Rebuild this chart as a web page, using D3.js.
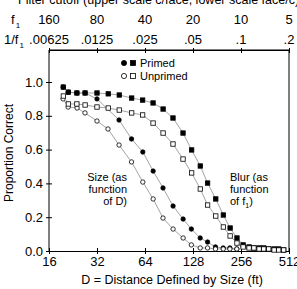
<!DOCTYPE html>
<html>
<head>
<meta charset="utf-8">
<script src="https://cdn.jsdelivr.net/npm/d3@7"></script>
<style>
  body { margin: 0; background: #fff; }
  svg { font-family: "Liberation Sans", Arial, Helvetica, sans-serif; }
</style>
</head>
<body>
<div id="chart"></div>
<script>
// ---- data ----
let distTicks = [16, 32, 64, 128, 256, 512];
let fTicks = [160, 80, 40, 20, 10, 5];
let invTickLabels = [".00625", ".0125", ".025", ".05", ".1", ".2"];
let yTicks = [0, 0.2, 0.4, 0.6, 0.8, 1.0];

// size condition, x = distance D (ft)
let sizeD = [19.6, 21.1, 24, 26.9, 32, 37.5, 44, 52.7, 62, 72, 83, 96, 111, 125, 142, 158, 177, 198, 218, 241];
let sizePrimed = [0.97, 0.94, 0.935, 0.935, 0.90, null, 0.775, 0.663, 0.586, 0.473, 0.373, 0.266, 0.189, 0.13, 0.077, 0.053, 0.024, 0.018, 0.018, 0.012];
let sizeUnprimed = [0.90, 0.852, 0.846, 0.817, 0.769, 0.722, 0.627, 0.527, 0.408, 0.308, 0.195, 0.130, 0.077, 0.036, 0.018, 0.018, 0.012, 0.012, 0.012, 0.012];

// blur condition, x = filter cutoff f1 (c/face)
let blurF = [130, 121, 107, 95, 80, 68, 58, 48.5, 41.4, 35.6, 30.8, 26.7, 23.1, 20.4, 18, 16.2, 14.4, 12.9, 11.7, 10.6, 9.7, 8.9, 8.3, 7.7, 7.2, 6.7, 6.2, 5.8, 5.4];
let blurPrimed = [0.97, 0.94, 0.935, 0.935, 0.935, 0.93, 0.923, 0.905, 0.893, 0.876, 0.84, 0.787, 0.698, 0.598, 0.503, 0.402, 0.308, 0.213, 0.136, 0.077, 0.036, 0.024, 0.018, 0.018, 0.018, 0.012, 0.012, 0.012, 0.006];
let blurUnprimed = [0.917, 0.87, 0.87, 0.864, 0.852, 0.846, 0.834, 0.817, 0.805, 0.757, 0.698, 0.633, 0.544, 0.462, 0.367, 0.272, 0.207, 0.142, 0.089, 0.047, 0.024, 0.018, 0.018, 0.012, 0.012, 0.012, 0.006, 0.006, 0.006];

// ---- layout ----
let width = 297, height = 289;
let plotLeft = 49, plotRight = 289, plotTop = 50, plotBottom = 251;

let svg = d3.select("#chart").append("svg")
    .attr("width", width)
    .attr("height", height);

let x = d3.scaleLog().base(2).domain([16, 512]).range([plotLeft, plotRight]);
let xf = d3.scaleLog().base(2).domain([160, 5]).range([plotLeft, plotRight]);
let y = d3.scaleLinear().domain([0, 1]).range([plotBottom, 82]);

// frame: top and right lines
svg.append("line").attr("x1", plotLeft).attr("x2", plotRight).attr("y1", plotTop).attr("y2", plotTop).attr("stroke", "#000");
svg.append("line").attr("x1", plotRight).attr("x2", plotRight).attr("y1", plotTop).attr("y2", plotBottom).attr("stroke", "#000");

// bottom axis
let gx = svg.append("g")
    .attr("transform", `translate(0,${plotBottom})`)
    .call(d3.axisBottom(x).tickValues(distTicks).tickFormat(d3.format("d")).tickSize(3).tickSizeOuter(0));
gx.selectAll(".tick line").attr("y1", -3).attr("y2", 3);
gx.selectAll(".tick text").attr("y", 6).attr("font-size", 13).attr("fill", "#000");

// left axis
let gy = svg.append("g")
    .attr("transform", `translate(${plotLeft},0)`)
    .call(d3.axisLeft(y).tickValues(yTicks).tickFormat(d3.format(".1f")).tickSize(3).tickSizeOuter(0));
gy.selectAll(".tick line").attr("x1", -3).attr("x2", 3);
gy.selectAll(".tick text").attr("x", -6).attr("font-size", 13).attr("fill", "#000");
gy.select(".domain").attr("d", `M0,${plotTop}V${plotBottom}`);

// top axis (filter cutoff)
let gt = svg.append("g")
    .attr("transform", `translate(0,${plotTop})`)
    .call(d3.axisTop(xf).tickValues(fTicks).tickFormat("").tickSize(3).tickSizeOuter(0));
gt.selectAll(".tick line").attr("y1", -2).attr("y2", 3);

svg.append("g").selectAll("text").data(fTicks).enter().append("text")
    .attr("x", d => xf(d)).attr("y", 24)
    .attr("text-anchor", "middle").attr("font-size", 13)
    .text(d => d);

svg.append("g").selectAll("text").data(fTicks).enter().append("text")
    .attr("x", d => xf(d)).attr("y", 44)
    .attr("text-anchor", "middle").attr("font-size", 13)
    .text((d, i) => invTickLabels[i]);

let f1 = svg.append("text").attr("x", 11).attr("y", 24).attr("font-size", 13);
f1.append("tspan").text("f");
f1.append("tspan").attr("font-size", 8).attr("dy", 4).attr("dx", 1).text("1");

let if1 = svg.append("text").attr("x", 4).attr("y", 44).attr("font-size", 13);
if1.append("tspan").text("1/f");
if1.append("tspan").attr("font-size", 8).attr("dy", 4).attr("dx", 1).text("1");

svg.append("text")
    .attr("x", 18).attr("y", 3.5).attr("font-size", 12.5)
    .text("Filter cutoff (upper scale c/face, lower scale face/c)");

// axis titles
svg.append("text")
    .attr("transform", "translate(13,153) rotate(-90)")
    .attr("text-anchor", "middle").attr("font-size", 12)
    .text("Proportion Correct");

svg.append("text")
    .attr("x", 172).attr("y", 284)
    .attr("text-anchor", "middle").attr("font-size", 12.5)
    .text("D = Distance Defined by Size (ft)");

// ---- series ----
let series = [
    {xs: sizeD, ys: sizePrimed, sc: x, shape: "circle", filled: true},
    {xs: sizeD, ys: sizeUnprimed, sc: x, shape: "circle", filled: false},
    {xs: blurF, ys: blurPrimed, sc: xf, shape: "square", filled: true},
    {xs: blurF, ys: blurUnprimed, sc: xf, shape: "square", filled: false}
];

let line = d3.line().x(d => d[0]).y(d => d[1]);

series.forEach(s => {
    let pts = s.xs.map((v, i) => [v, s.ys[i]])
        .filter(d => d[1] != null)
        .map(d => [s.sc(d[0]), y(d[1])]);

    svg.append("path")
        .attr("d", line(pts))
        .attr("fill", "none")
        .attr("stroke", "#8c8c8c")
        .attr("stroke-width", 0.8);

    let g = svg.append("g");
    if (s.shape === "circle") {
        g.selectAll("circle").data(pts).enter().append("circle")
            .attr("cx", d => d[0]).attr("cy", d => d[1]).attr("r", 2.2)
            .attr("fill", s.filled ? "#000" : "#fff")
            .attr("stroke", "#000").attr("stroke-width", 0.8);
    } else {
        g.selectAll("rect").data(pts).enter().append("rect")
            .attr("x", d => d[0] - 2.2).attr("y", d => d[1] - 2.2)
            .attr("width", 4.4).attr("height", 4.4)
            .attr("fill", s.filled ? "#000" : "#fff")
            .attr("stroke", "#000").attr("stroke-width", 0.8);
    }
});

// legend
let legendRows = [{label: "Primed", filled: true, y: 63}, {label: "Unprimed", filled: false, y: 76}];
legendRows.forEach(r => {
    svg.append("circle").attr("cx", 124).attr("cy", r.y).attr("r", 2.6)
        .attr("fill", r.filled ? "#000" : "#fff").attr("stroke", "#000").attr("stroke-width", 0.8);
    svg.append("rect").attr("x", 130.5).attr("y", r.y - 2.5).attr("width", 5).attr("height", 5)
        .attr("fill", r.filled ? "#000" : "#fff").attr("stroke", "#000").attr("stroke-width", 0.8);
    svg.append("text").attr("x", 140).attr("y", r.y + 4).attr("font-size", 11).text(r.label);
});

// annotations
let sizeNote = svg.append("text").attr("text-anchor", "end").attr("font-size", 11);
["Size (as", "function", "of D)"].forEach((t, i) => {
    sizeNote.append("tspan").attr("x", 127).attr("y", 181 + i * 12).text(t);
});

let blurNote = svg.append("text").attr("font-size", 11);
blurNote.append("tspan").attr("x", 230).attr("y", 181).text("Blur (as");
blurNote.append("tspan").attr("x", 230).attr("y", 193).text("function");
blurNote.append("tspan").attr("x", 230).attr("y", 205).text("of f");
blurNote.append("tspan").attr("font-size", 7).attr("dy", 3).text("1");
blurNote.append("tspan").attr("dy", -3).text(")");
</script>
</body>
</html>
